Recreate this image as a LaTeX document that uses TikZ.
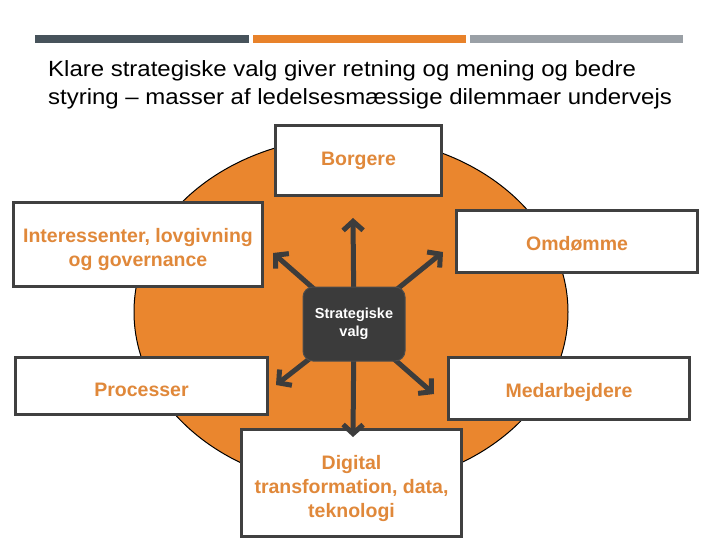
\documentclass[tikz,border=0pt]{standalone}
\usepackage{fontspec}
\setmainfont{Liberation Sans}
\newfontfamily\titlefont[FakeStretch=1.09]{Liberation Sans}
\usetikzlibrary{arrows.meta}
\definecolor{orng}{HTML}{EA862E}
\definecolor{orngtxt}{HTML}{E0883A}
\definecolor{bardark}{HTML}{47535B}
\definecolor{barorng}{HTML}{E8822A}
\definecolor{bargray}{HTML}{9AA0A6}
\definecolor{boxline}{HTML}{404040}
\definecolor{arrowcol}{HTML}{3C3C3C}
\definecolor{centerfill}{HTML}{3B3B3B}
\pgfdeclarelayer{background}
\pgfdeclarelayer{foreground}
\pgfsetlayers{background,main,foreground}
\tikzset{
  wbox/.style={draw=boxline, line width=3pt, fill=white, inner sep=0pt},
  btext/.style={inner sep=0pt, text=orngtxt, align=center,
    font=\bfseries\fontsize{19.5}{24}\selectfont},
  cbox/.style={draw=boxline!80!gray, line width=1pt, fill=centerfill, rounded corners=10pt,
    inner sep=0pt, text=white, align=center, font=\bfseries\fontsize{14.5}{18}\selectfont,
    minimum width=102pt, minimum height=74pt},
  spoke/.style={draw=arrowcol, line width=5pt,
    -{Straight Barb[length=9pt,width=20pt,line width=5pt]}},
  titletext/.style={anchor=base west, inner sep=0pt, font=\titlefont\fontsize{22}{28}\selectfont}
}
\begin{document}
\begin{tikzpicture}[x=1pt,y=-1pt]
\useasboundingbox (0,0) rectangle (720,540);
% header bars
\fill[bardark] (35,35) rectangle (249,43);
\fill[barorng] (253,35) rectangle (466,43);
\fill[bargray] (470,35) rectangle (683,43);
% title
\node[titletext] (t1) at (48,77) {Klare strategiske valg giver retning og mening og bedre};
\node[titletext] (t2) at (48,105) {styring – masser af ledelsesmæssige dilemmaer undervejs};
% circle
\begin{pgfonlayer}{background}
\draw[fill=orng, line width=1pt, draw=black] (351,312) ellipse [x radius=217, y radius=175];
\end{pgfonlayer}
% boxes
\node[wbox, minimum width=166pt, minimum height=70pt] (borg) at (358.5,160.5) {};
\node[wbox, minimum width=249pt, minimum height=84pt] (inter) at (138,244.5) {};
\node[wbox, minimum width=241pt, minimum height=62pt] (omd) at (577,241.5) {};
\node[wbox, minimum width=241pt, minimum height=62pt] (med) at (569,388.5) {};
\node[wbox, minimum width=252pt, minimum height=57pt] (proc) at (141.5,386) {};
\node[wbox, minimum width=220pt, minimum height=107pt] (dig) at (351.5,483) {};
% box texts
\node[btext] (borgT) at ([yshift=0pt]borg.center) {Borgere};
\node[btext] (interT) at ([yshift=-5pt]inter.center) {Interessenter, lovgivning\\og governance};
\node[btext] (omdT) at ([yshift=-2pt]omd.center) {Omdømme};
\node[btext] (medT) at ([yshift=-4pt]med.center) {Medarbejdere};
\node[btext] (procT) at ([yshift=-4pt]proc.center) {Processer};
\node[btext] (digT) at ([yshift=-5pt]dig.center) {Digital\\transformation, data,\\teknologi};
% center
\begin{pgfonlayer}{foreground}
\node[cbox] (c) at (354,324) {Strategiske\\valg};
\end{pgfonlayer}
% arrow tips
\coordinate (tu) at (353,218);
\coordinate (tul) at (273,253);
\coordinate (tur) at (443,252);
\coordinate (tll) at (276,385);
\coordinate (tlr) at (434,394);
\coordinate (td) at (353,437);
\draw[spoke] (c.center) -- (tu);
\draw[spoke] (c.center) -- (tul);
\draw[spoke] (c.center) -- (tur);
\draw[spoke] (c.center) -- (tll);
\draw[spoke] (c.center) -- (tlr);
\draw[spoke] (c.center) -- (td);
\end{tikzpicture}
\end{document}
